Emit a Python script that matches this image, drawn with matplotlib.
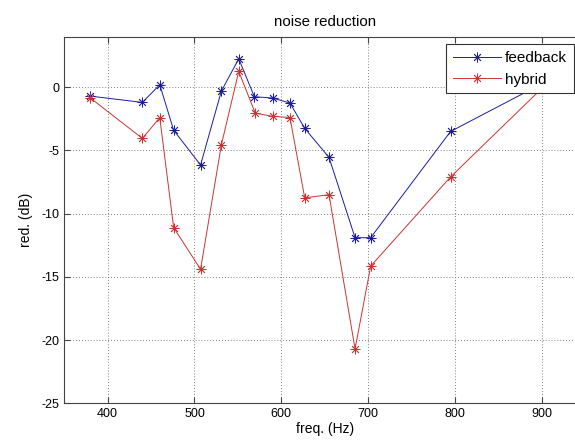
import matplotlib
matplotlib.use('Agg')
import matplotlib.pyplot as plt

# frequencies (Hz) and noise reduction (dB)
freq_fb = [380, 440, 460, 476, 507, 531, 551, 569, 590, 610, 627, 655, 685, 703, 795, 912]
red_fb = [-0.7, -1.2, 0.2, -3.4, -6.15, -0.3, 2.25, -0.75, -0.85, -1.25, -3.25, -5.55, -11.9, -11.9, -3.5, 0.7]

freq_hy = [380, 440, 460, 476, 507, 531, 551, 570, 590, 610, 627, 655, 685, 703, 795, 912]
red_hy = [-0.85, -4.05, -2.4, -11.1, -14.4, -4.55, 1.25, -2.05, -2.3, -2.4, -8.75, -8.5, -20.7, -14.15, -7.1, 0.7]

x_ticks = [400, 500, 600, 700, 800, 900]
y_ticks = [-25, -20, -15, -10, -5, 0]

plt.rcParams['font.family'] = ['Liberation Sans', 'DejaVu Sans']
plt.rcParams['axes.unicode_minus'] = False

fig = plt.figure(figsize=(5.75, 4.44), dpi=100)
# axes runs a little past the right edge of the image, as in the reference
ax = fig.add_axes([0.1118, 0.0917, 0.9057, 0.8257])

asterisk = (8, 2, 0)
ax.plot(freq_fb, red_fb, color='#1c1c9c', linewidth=0.7, marker=asterisk,
        markersize=7, markeredgewidth=0.6, label='feedback')
ax.plot(freq_hy, red_hy, color='#cc3333', linewidth=0.7, marker=asterisk,
        markersize=7, markeredgewidth=0.6, label='hybrid')

ax.set_xlim(350, 950)
ax.set_ylim(-25, 4)
ax.set_xticks(x_ticks)
ax.set_yticks(y_ticks)
ax.grid(True, linestyle=(0, (1, 2.5)), color='#555555', linewidth=0.6)
ax.tick_params(direction='in', top=True, right=False, labelsize=9, length=4,
               color='#444444')
for s in ax.spines.values():
    s.set_color('#444444')
    s.set_linewidth(0.8)
ax.spines['right'].set_visible(False)

ax.set_title('noise reduction', fontsize=10.8, pad=8)
ax.set_xlabel('freq. (Hz)', fontsize=10, labelpad=1)
ax.set_ylabel('red. (dB)', fontsize=10, labelpad=6)

leg = ax.legend(loc='upper right', bbox_to_anchor=(574 / 575, 1 - 44 / 444),
                bbox_transform=fig.transFigure, borderaxespad=0,
                fontsize=11, frameon=True, fancybox=False, framealpha=1,
                handlelength=3.1, borderpad=0.45, labelspacing=0.5,
                handletextpad=0.3)
leg.get_frame().set_edgecolor('#333333')
leg.get_frame().set_linewidth(0.8)
leg.set_zorder(10)

plt.savefig('out.png', dpi=100)
plt.close()
